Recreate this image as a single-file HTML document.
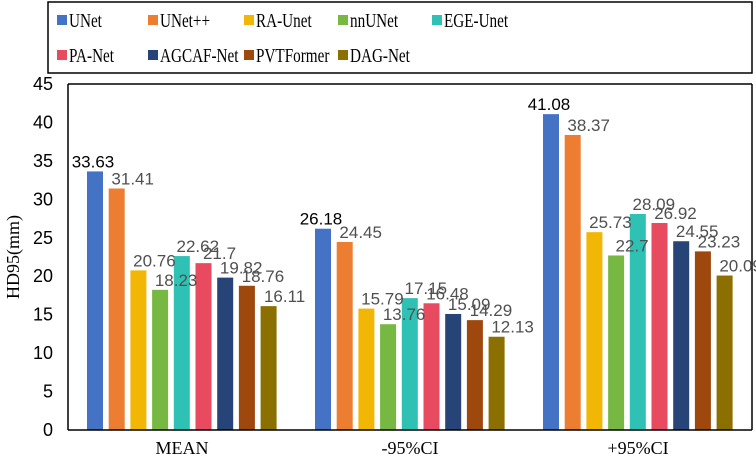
<!DOCTYPE html>
<html><head><meta charset="utf-8"><style>
body{margin:0;background:#fff;}
svg text{font-family:"Liberation Sans",sans-serif;}
</style></head><body>
<svg width="756" height="462">
<rect x="48" y="2" width="704" height="71" fill="none" stroke="#000" stroke-width="1.5"/>
<g id="legend"></g>
<line x1="68" y1="84" x2="752" y2="84" stroke="#000" stroke-width="1.5"/>
<line x1="752" y1="84" x2="752" y2="430" stroke="#000" stroke-width="1.5"/>
<g id="grid"></g>
<g id="bars"></g>
<line x1="68" y1="84" x2="68" y2="430" stroke="#000" stroke-width="1.5"/>
<line x1="68" y1="430" x2="752" y2="430" stroke="#000" stroke-width="1.5"/>
<text x="19" y="257" transform="rotate(-90 19 257)" text-anchor="middle" font-size="18" style="font-family:'Liberation Serif',serif">HD95(mm)</text>
</svg>
<script>
const categories=["MEAN","-95%CI","+95%CI"];
const seriesNames=["UNet","UNet++","RA-Unet","nnUNet","EGE-Unet","PA-Net","AGCAF-Net","PVTFormer","DAG-Net"];
const colors=["#4472C4","#ED7D31","#F2B705","#77B843","#2EC1B4","#E84A5F","#264478","#9E480E","#8B6F00"];
const vUNet=[33.63,26.18,41.08];
const vUNetpp=[31.41,24.45,38.37];
const vRA=[20.76,15.79,25.73];
const vnn=[18.23,13.76,22.7];
const vEGE=[22.62,17.15,28.09];
const vPA=[21.7,16.48,26.92];
const vAGCAF=[19.82,15.09,24.55];
const vPVT=[18.76,14.29,23.23];
const vDAG=[16.11,12.13,20.09];
const values=[vUNet,vUNetpp,vRA,vnn,vEGE,vPA,vAGCAF,vPVT,vDAG];
const yTicks=[0,5,10,15,20,25,30,35,40,45];
const NS="http://www.w3.org/2000/svg";
const y0=430,yTop=84,yMax=45,x0=68,band=228;
const yS=v=>y0-(v/yMax)*(y0-yTop);
const xBar=(c,s)=>x0+band*c+19+s*21.7;
function mk(t,a,p){const e=document.createElementNS(NS,t);for(const k in a)e.setAttribute(k,a[k]);p.appendChild(e);return e;}
const grid=document.getElementById('grid');
yTicks.forEach(t=>{
 const e=mk('text',{x:53,y:yS(t)+6,'text-anchor':'end','font-size':'18',fill:'#000'},grid);
 e.textContent=t;
 
 
});
categories.forEach((c,i)=>{
 const e=mk('text',{x:x0+band*i+band/2,y:454,'text-anchor':'middle','font-size':'18',style:"font-family:'Liberation Serif',serif"},grid);
 e.textContent=c;
 
 
});
const bars=document.getElementById('bars');
values.forEach((arr,s)=>{
 arr.forEach((v,c)=>{
  const x=xBar(c,s);
  const r=mk('rect',{x:x,y:yS(v),width:16,height:y0-yS(v),fill:colors[s]},bars);
  
  
 });
});
values.forEach((arr,s)=>{
 arr.forEach((v,c)=>{
  const x=xBar(c,s);
  const t=mk('text',{x:s===0?x+6:x+24,y:yS(v)-4,'text-anchor':'middle','font-size':'17',fill:s===0?'#000':'#505050'},bars);
  t.textContent=v;
  
  
 });
});
const leg=document.getElementById('legend');
const lx=[57,148,244,338,432];
seriesNames.forEach((n,i)=>{
 const x=lx[i%5],y=i<5?20:55;
 const r=mk('rect',{x:x,y:y-5,width:10,height:10,fill:colors[i]},leg);
 
 
 const t=mk('text',{x:0,y:0,'font-size':'20',transform:'translate('+(x+12)+','+(y+7)+') scale(0.76,1)',style:"font-family:'Liberation Serif',serif"},leg);
 t.textContent=n;
 
 
});
</script>
</body></html>
